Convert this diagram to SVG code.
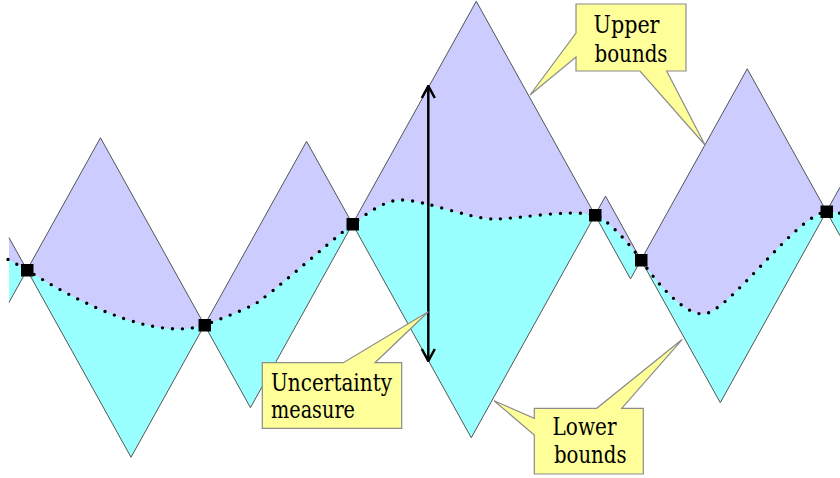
<svg xmlns="http://www.w3.org/2000/svg" width="840" height="478" viewBox="0 0 840 478">
  <style>
    .env { fill: none; stroke: #555555; stroke-width: 1; stroke-linejoin: miter; }
    .curve { fill: none; stroke: #000000; stroke-width: 3.4; stroke-linecap: round; stroke-dasharray: 0 10; }
    .pt { fill: #000000; }
    .callout { fill: #FFFF99; stroke: #8C8C8C; stroke-width: 1.2; }
    .lbl { font-family: 'DejaVu Serif', 'Liberation Serif', serif; font-size: 25px; fill: #000000; }
    .arrow { fill: none; stroke: #000000; stroke-width: 2.5; }
  </style>
  <defs>
    <clipPath id="envClip">
      <polygon points="9,237.6 27,270 100.47,137.75 204.5,325 306.56,141.3 352.5,224 476.25,1.25 595,215 605.5,196.1 641,260 747.22,68.8 826.5,211.5 840,187.2 840,235.8 826.5,211.5 720.28,402.7 641,260 630.5,278.9 595,215 471.25,437.75 352.5,224 250.44,407.7 204.5,325 131.03,457.25 27,270 9,302.4"/>
    </clipPath>
    <marker id="head" viewBox="0 0 14 16" refX="13" refY="8" markerWidth="14" markerHeight="16" markerUnits="userSpaceOnUse" orient="auto-start-reverse">
      <path d="M1,1.5 L13,8 L1,14.5" fill="none" stroke="#000000" stroke-width="2.5"/>
    </marker>
  </defs>

  <g id="bounds">
    <polygon fill="#99FFFF" points="9,237.6 27,270 100.47,137.75 204.5,325 306.56,141.3 352.5,224 476.25,1.25 595,215 605.5,196.1 641,260 747.22,68.8 826.5,211.5 840,187.2 840,235.8 826.5,211.5 720.28,402.7 641,260 630.5,278.9 595,215 471.25,437.75 352.5,224 250.44,407.7 204.5,325 131.03,457.25 27,270 9,302.4"/>
    <path clip-path="url(#envClip)" fill="#CCCCFF" d="M8,259.5 C14,262.5 19,265.6 27,270 C90,310 160,340 204.5,325 C222,318.5 240,311.5 255,304 C268,296.5 325,246 352.5,224 C367,213.5 385,200 401,200 C425,200 470,219 494,219 C520,219 565,209 595,215 C606,218 630,244 641,260 C657,283 683,314 703,314 C728,314 795,216 826.5,211.5 C832,210.7 836,212 842,214 L842,-5 L0,-5 L0,259.5 Z"/>
    <polyline class="env" points="9,237.6 27,270 100.47,137.75 204.5,325 306.56,141.3 352.5,224 476.25,1.25 595,215 605.5,196.1 641,260 747.22,68.8 826.5,211.5 840,187.2"/>
    <polyline class="env" points="9,302.4 27,270 131.03,457.25 204.5,325 250.44,407.7 352.5,224 471.25,437.75 595,215 630.5,278.9 641,260 720.28,402.7 826.5,211.5 840,235.8"/>
  </g>

  <g id="estimate">
    <path class="curve" d="M8,259.5 C14,262.5 19,265.6 27,270 C90,310 160,340 204.5,325 C222,318.5 240,311.5 255,304 C268,296.5 325,246 352.5,224 C367,213.5 385,200 401,200 C425,200 470,219 494,219 C520,219 565,209 595,215 C606,218 630,244 641,260 C657,283 683,314 703,314 C728,314 795,216 826.5,211.5 C832,210.7 836,212 842,214"/>
  </g>

  <g id="connectors">
    <line class="arrow" x1="428.3" y1="86" x2="428.3" y2="361" marker-start="url(#head)" marker-end="url(#head)"/>
  </g>

  <g id="samples">
    <rect class="pt" x="21" y="264" width="12.5" height="12.5"/>
    <rect class="pt" x="198.5" y="319" width="12.5" height="12.5"/>
    <rect class="pt" x="346.5" y="218" width="12.5" height="12.5"/>
    <rect class="pt" x="589" y="209" width="12.5" height="12.5"/>
    <rect class="pt" x="635" y="254" width="12.5" height="12.5"/>
    <rect class="pt" x="820.5" y="205.5" width="12.5" height="12.5"/>
  </g>

  <g id="upper-bounds-label">
    <path class="callout" d="M576,4 H686 V71 H666.7 L705,145 L640,71 H576 V57 L530,95 L576,33 Z"/>
    <text class="lbl" x="593.5" y="33" textLength="66" lengthAdjust="spacingAndGlyphs">Upper</text>
    <text class="lbl" x="594.5" y="61.5" textLength="73" lengthAdjust="spacingAndGlyphs">bounds</text>
  </g>

  <g id="uncertainty-label">
    <path class="callout" d="M262.3,362.7 H343.3 L428.3,311.7 L375,362.7 H401.7 V428.3 H262.3 Z"/>
    <text class="lbl" x="271" y="390.5" textLength="121" lengthAdjust="spacingAndGlyphs">Uncertainty</text>
    <text class="lbl" x="271" y="418.3" textLength="84" lengthAdjust="spacingAndGlyphs">measure</text>
  </g>

  <g id="lower-bounds-label">
    <path class="callout" d="M534.3,408.3 H596.7 L682.3,339.3 L621.7,408.3 H643.3 V474 H534.3 V435 L494,400.7 L534.3,418.3 Z"/>
    <text class="lbl" x="552.5" y="435" textLength="64" lengthAdjust="spacingAndGlyphs">Lower</text>
    <text class="lbl" x="554" y="463.3" textLength="72.5" lengthAdjust="spacingAndGlyphs">bounds</text>
  </g>
</svg>
